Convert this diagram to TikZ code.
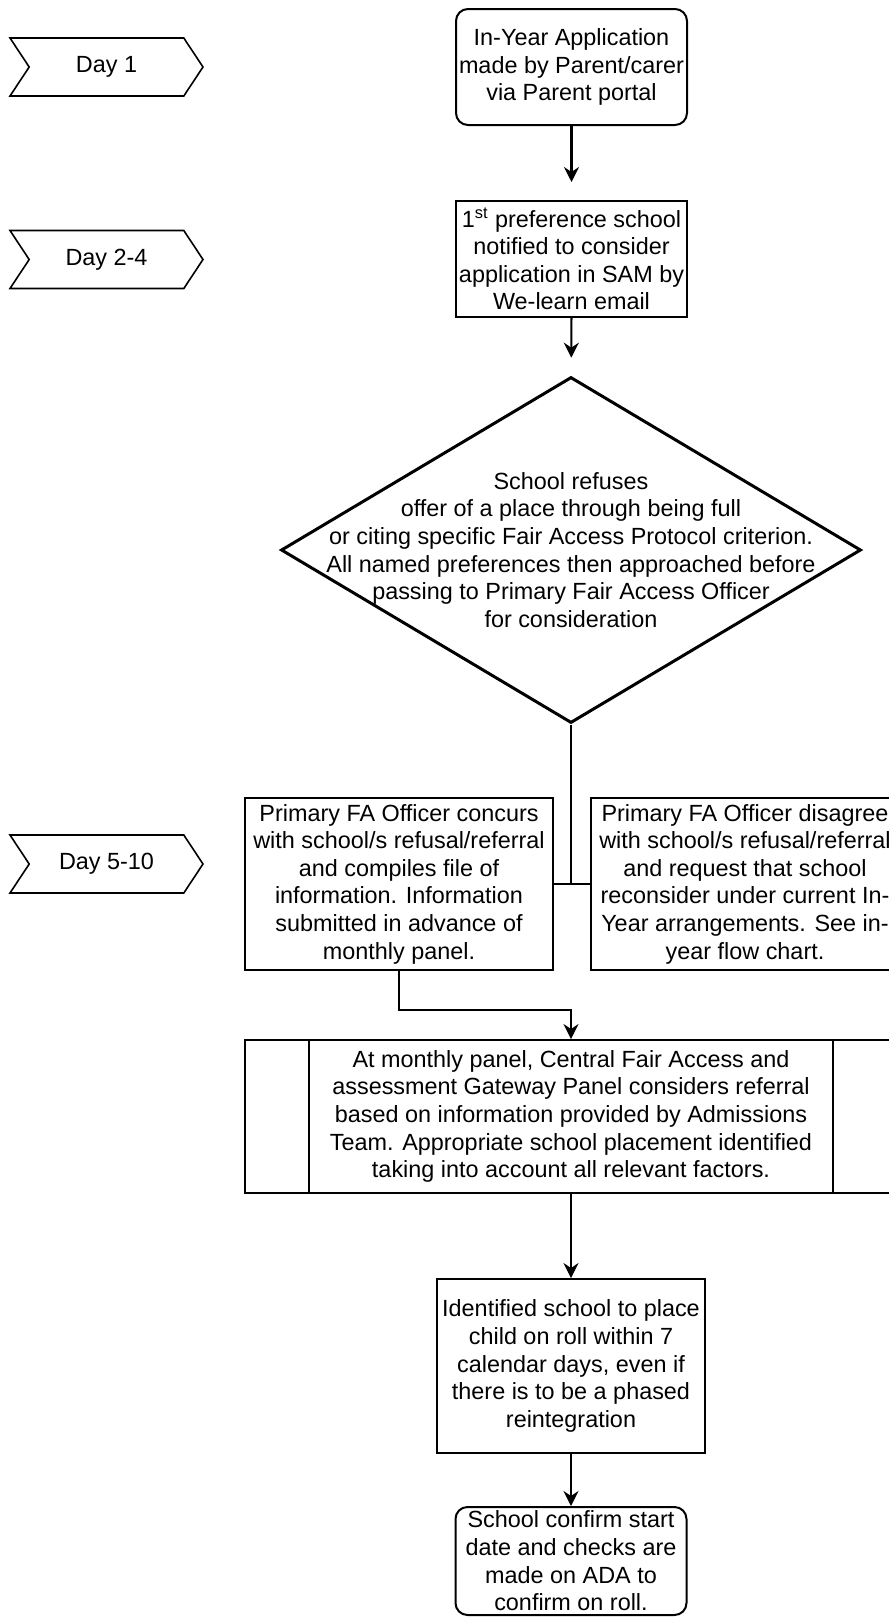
\documentclass[tikz,border=0pt]{standalone}
\usepackage{fontspec}
\setmainfont{Liberation Sans}
\usetikzlibrary{arrows.meta,shapes.geometric,shapes.symbols}

\begin{document}
\begin{tikzpicture}[x=0.5pt, y=-0.5pt, >={Stealth[length=7.5pt,width=7.5pt,inset=2.5pt]},
    every node/.style={font=\fontsize{11.7}{13.8}\selectfont, align=center},
    daytag/.style={draw, line width=0.8pt, signal, signal from=west, signal to=east,
        signal pointer angle=113, minimum width=96.5pt, minimum height=29pt, inner sep=0pt},
    startbox/.style={draw, line width=1pt, rounded corners=6pt, minimum width=115.5pt,
        minimum height=58pt, inner sep=1pt},
    stepbox/.style={draw, line width=1pt, rectangle, inner sep=1pt},
    decision/.style={draw, diamond, line width=1.5pt, minimum width=290pt,
        minimum height=173pt, inner sep=0pt},
    link/.style={line width=0.65pt},
    boldlink/.style={line width=1.1pt}]
    \useasboundingbox (0,0) rectangle (889,1618);

    % 1. Day markers
    \node[daytag] (day1) at (106.5,67) {Day 1};
    \node[daytag] (day2) at (106.5,259.5) {Day 2-4};
    \node[daytag] (day3) at (106.5,864) {Day 5-10};

    % 2. Application and notification
    \node[startbox] (apply) at (571.5,67) {In-Year Application\\made by Parent/carer\\via Parent portal};
    \node[stepbox, minimum width=115.5pt, minimum height=58pt] (notify) at (571.5,259)
        {1\textsuperscript{st} preference school\\notified to consider\\application in SAM by\\We-learn email};

    % 3. Refusal decision
    \node[decision] (refuse) at (571,550) {};
    \node (refusetext) at (refuse.center) {School refuses\\offer of a place through being full\\or citing specific Fair Access Protocol criterion.\\All named preferences then approached before\\passing to Primary Fair Access Officer\\for consideration};

    % 4. Officer outcomes
    \node[stepbox, minimum width=154pt, minimum height=86pt] (concur) at (399,884)
        {Primary FA Officer concurs\\with school/s refusal/referral\\and compiles file of\\information. Information\\submitted in advance of\\monthly panel.};
    \node[stepbox, minimum width=154pt, minimum height=86pt] (disagree) at (745,884)
        {Primary FA Officer disagree\\with school/s refusal/referral\\and request that school\\reconsider under current In-\\Year arrangements. See in-\\year flow chart.};

    % 5. Panel, placement, confirmation
    \node[stepbox, minimum width=326pt, minimum height=76.5pt] (panel) at (571,1116.5)
        {At monthly panel, Central Fair Access and\\assessment Gateway Panel considers referral\\based on information provided by Admissions\\Team. Appropriate school placement identified\\taking into account all relevant factors.};
    \draw[line width=1pt] ([xshift=32.5pt]panel.north west) -- ([xshift=32.5pt]panel.south west);
    \draw[line width=1pt] ([xshift=-32.5pt]panel.north east) -- ([xshift=-32.5pt]panel.south east);
    \node[stepbox, minimum width=134pt, minimum height=87pt] (place) at (571,1366)
        {Identified school to place\\child on roll within 7\\calendar days, even if\\there is to be a phased\\reintegration};
    \node[startbox, minimum height=54pt] (confirm) at (571,1561)
        {School confirm start\\date and checks are\\made on ADA to\\confirm on roll.};

    % 6. Connectors
    \draw[->, boldlink, shorten >=9pt] (apply) -- (notify);
    \draw[->, boldlink, shorten >=9pt] (notify) -- (refuse);
    \draw[link] (refuse.south) -- (refuse.south |- concur.east);
    \draw[link] (concur.east) -- (disagree.west);
    \draw[link, ->] (concur.south) -- ++(0,39) -| (panel.north);
    \draw[link, ->] (panel) -- (place);
    \draw[->, boldlink] (place) -- (confirm);
\end{tikzpicture}
\end{document}
